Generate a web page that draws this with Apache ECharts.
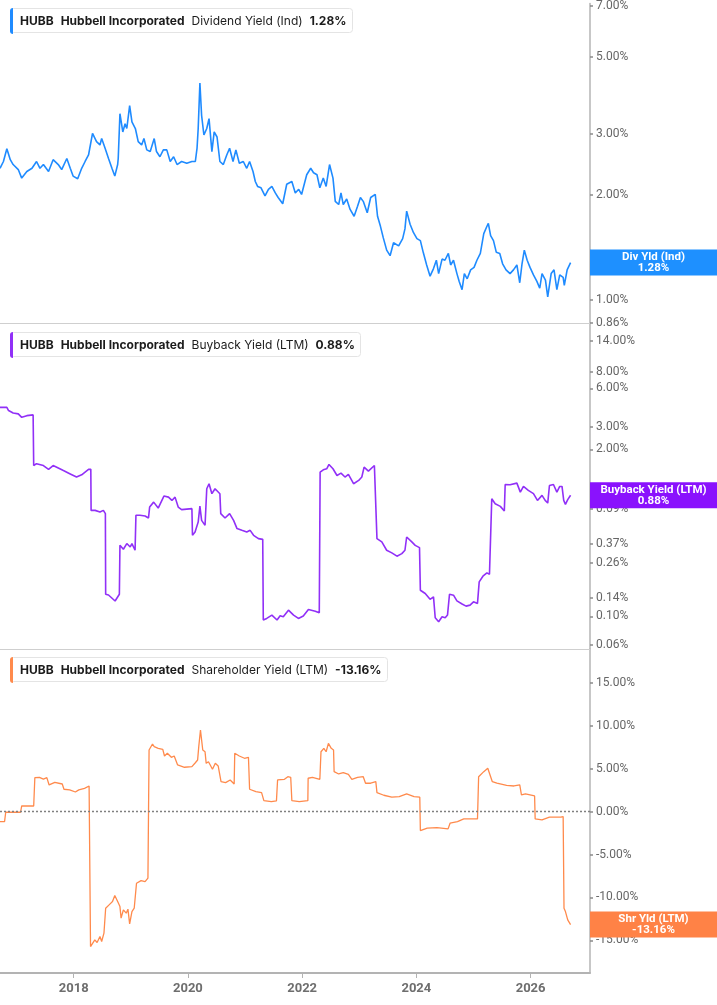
<!DOCTYPE html>
<html lang="en">
<head>
    <meta charset="UTF-8">
    <title>HUBB Yields</title>
    <script src="https://cdn.jsdelivr.net/npm/echarts@6/dist/echarts.min.js"></script>
    <style>
        html, body { margin: 0; padding: 0; background: #fff; }
        #chartContainer { width: 717px; height: 1005px; }
    </style>
</head>
<body>
<div id="chartContainer"></div>
<script type="text/javascript">
    // x = decimal year, y = percent
    var divYield = [[2016.71,2.39],[2016.77,2.50],[2016.83,2.72],[2016.89,2.53],[2016.94,2.45],[2017.03,2.37],[2017.09,2.24],[2017.18,2.34],[2017.27,2.39],[2017.35,2.50],[2017.41,2.39],[2017.47,2.45],[2017.56,2.34],[2017.64,2.53],[2017.73,2.45],[2017.79,2.37],[2017.88,2.55],[2017.94,2.39],[2017.99,2.27],[2018.07,2.23],[2018.14,2.39],[2018.20,2.50],[2018.26,2.61],[2018.33,3.01],[2018.40,2.85],[2018.46,2.79],[2018.49,2.91],[2018.55,2.73],[2018.61,2.55],[2018.67,2.39],[2018.72,2.27],[2018.77,2.45],[2018.78,2.55],[2018.81,3.43],[2018.86,3.04],[2018.90,3.21],[2018.93,3.11],[2018.98,3.62],[2019.02,3.25],[2019.08,3.11],[2019.13,2.85],[2019.19,2.79],[2019.23,2.91],[2019.28,2.70],[2019.34,2.67],[2019.41,2.91],[2019.45,2.67],[2019.51,2.58],[2019.57,2.70],[2019.63,2.70],[2019.69,2.50],[2019.75,2.58],[2019.81,2.45],[2019.89,2.50],[2019.98,2.47],[2020.07,2.50],[2020.13,2.50],[2020.16,2.73],[2020.18,3.11],[2020.21,4.20],[2020.24,3.39],[2020.28,2.98],[2020.33,3.11],[2020.37,3.32],[2020.42,2.67],[2020.46,3.04],[2020.51,2.94],[2020.56,2.50],[2020.62,2.45],[2020.68,2.61],[2020.73,2.73],[2020.79,2.50],[2020.84,2.70],[2020.90,2.47],[2020.97,2.50],[2021.03,2.39],[2021.08,2.50],[2021.14,2.34],[2021.18,2.19],[2021.22,2.12],[2021.28,2.10],[2021.35,1.99],[2021.41,2.08],[2021.47,2.12],[2021.53,2.03],[2021.58,1.97],[2021.66,1.89],[2021.73,2.15],[2021.82,2.19],[2021.88,2.03],[2021.94,2.08],[2021.99,2.01],[2022.08,2.29],[2022.15,2.39],[2022.20,2.32],[2022.26,2.29],[2022.31,2.10],[2022.37,2.24],[2022.42,2.12],[2022.48,2.45],[2022.54,2.24],[2022.58,1.92],[2022.64,1.88],[2022.68,2.03],[2022.72,1.88],[2022.78,1.95],[2022.84,1.82],[2022.91,1.74],[2022.97,1.86],[2023.02,1.97],[2023.07,1.92],[2023.14,1.78],[2023.20,1.97],[2023.28,2.01],[2023.32,1.74],[2023.37,1.63],[2023.42,1.51],[2023.48,1.39],[2023.54,1.34],[2023.60,1.46],[2023.69,1.43],[2023.76,1.50],[2023.80,1.60],[2023.83,1.80],[2023.89,1.65],[2023.95,1.56],[2024.01,1.50],[2024.07,1.48],[2024.12,1.37],[2024.18,1.26],[2024.24,1.17],[2024.30,1.23],[2024.35,1.30],[2024.39,1.19],[2024.45,1.31],[2024.50,1.30],[2024.56,1.36],[2024.60,1.26],[2024.65,1.30],[2024.71,1.19],[2024.75,1.13],[2024.80,1.07],[2024.84,1.19],[2024.89,1.15],[2024.95,1.22],[2025.01,1.24],[2025.06,1.30],[2025.12,1.36],[2025.18,1.55],[2025.23,1.62],[2025.26,1.66],[2025.30,1.53],[2025.35,1.48],[2025.40,1.37],[2025.46,1.36],[2025.51,1.27],[2025.57,1.22],[2025.64,1.19],[2025.70,1.22],[2025.76,1.26],[2025.81,1.12],[2025.85,1.27],[2025.89,1.39],[2025.94,1.30],[2025.99,1.24],[2026.05,1.18],[2026.11,1.13],[2026.16,1.08],[2026.20,1.19],[2026.26,1.14],[2026.30,1.02],[2026.36,1.19],[2026.41,1.22],[2026.46,1.07],[2026.51,1.18],[2026.57,1.16],[2026.59,1.10],[2026.64,1.22],[2026.70,1.28]];

    var buybackYield = [[2016.71,4.26],[2016.83,4.26],[2016.86,4.02],[2016.94,3.85],[2017.03,3.79],[2017.09,3.56],[2017.18,3.67],[2017.29,3.72],[2017.30,1.50],[2017.35,1.55],[2017.47,1.50],[2017.56,1.40],[2017.64,1.50],[2017.82,1.37],[2017.94,1.29],[2018.05,1.22],[2018.14,1.27],[2018.26,1.40],[2018.30,1.40],[2018.305,0.671],[2018.375,0.671],[2018.46,0.651],[2018.52,0.671],[2018.555,0.633],[2018.56,0.149],[2018.61,0.147],[2018.725,0.132],[2018.80,0.149],[2018.81,0.359],[2018.87,0.334],[2018.93,0.370],[2018.99,0.348],[2019.02,0.370],[2019.075,0.328],[2019.09,0.614],[2019.16,0.614],[2019.25,0.606],[2019.31,0.585],[2019.33,0.712],[2019.40,0.778],[2019.48,0.699],[2019.58,0.867],[2019.66,0.851],[2019.72,0.802],[2019.775,0.851],[2019.83,0.712],[2019.89,0.680],[2020.07,0.692],[2020.08,0.429],[2020.125,0.455],[2020.18,0.544],[2020.21,0.725],[2020.24,0.561],[2020.27,0.544],[2020.30,0.513],[2020.32,0.513],[2020.33,0.989],[2020.37,1.082],[2020.42,0.905],[2020.475,0.989],[2020.56,0.905],[2020.575,0.633],[2020.65,0.585],[2020.73,0.633],[2020.80,0.561],[2020.86,0.484],[2020.945,0.469],[2021.03,0.455],[2021.09,0.469],[2021.15,0.429],[2021.235,0.404],[2021.31,0.399],[2021.32,0.0938],[2021.38,0.0966],[2021.47,0.1025],[2021.56,0.0938],[2021.615,0.1013],[2021.67,0.0995],[2021.76,0.112],[2021.85,0.1025],[2021.935,0.0966],[2022.02,0.1007],[2022.11,0.1135],[2022.23,0.110],[2022.30,0.1068],[2022.315,1.331],[2022.37,1.39],[2022.43,1.415],[2022.47,1.528],[2022.54,1.415],[2022.61,1.255],[2022.68,1.308],[2022.75,1.22],[2022.81,1.278],[2022.90,1.082],[2022.99,1.148],[2023.045,1.22],[2023.085,1.456],[2023.16,1.355],[2023.265,1.50],[2023.295,1.456],[2023.31,0.404],[2023.395,0.381],[2023.48,0.328],[2023.57,0.313],[2023.66,0.295],[2023.745,0.309],[2023.80,0.328],[2023.83,0.416],[2023.92,0.381],[2023.98,0.358],[2024.055,0.344],[2024.07,0.160],[2024.155,0.151],[2024.24,0.136],[2024.30,0.142],[2024.33,0.0977],[2024.39,0.091],[2024.45,0.0995],[2024.505,0.0977],[2024.545,0.1025],[2024.58,0.149],[2024.65,0.1466],[2024.71,0.1324],[2024.80,0.125],[2024.87,0.1204],[2024.94,0.1226],[2025.00,0.130],[2025.07,0.1264],[2025.10,0.186],[2025.165,0.206],[2025.235,0.2186],[2025.28,0.2135],[2025.31,0.210],[2025.32,0.827],[2025.38,0.756],[2025.47,0.721],[2025.54,0.663],[2025.555,1.068],[2025.64,1.063],[2025.76,1.094],[2025.82,0.931],[2025.875,1.031],[2025.96,0.960],[2026.05,0.905],[2026.12,0.802],[2026.20,0.878],[2026.255,0.802],[2026.30,0.765],[2026.33,1.049],[2026.40,1.068],[2026.46,0.931],[2026.51,1.031],[2026.55,1.031],[2026.58,0.802],[2026.61,0.747],[2026.65,0.813],[2026.70,0.88]];

    var shareholderYield = [[2016.71,-1.16],[2016.79,-1.16],[2016.81,-0.07],[2017.07,-0.07],[2017.09,0.66],[2017.30,0.66],[2017.32,3.96],[2017.40,4.00],[2017.47,3.80],[2017.53,3.96],[2017.57,3.11],[2017.67,3.42],[2017.80,3.22],[2017.83,2.61],[2017.93,2.53],[2018.03,2.29],[2018.09,2.53],[2018.19,2.72],[2018.27,2.99],[2018.29,2.79],[2018.295,-15.72],[2018.33,-15.83],[2018.37,-14.94],[2018.41,-15.25],[2018.46,-14.55],[2018.49,-15.13],[2018.53,-14.16],[2018.56,-11.25],[2018.62,-10.86],[2018.68,-10.48],[2018.72,-9.78],[2018.77,-10.48],[2018.81,-11.06],[2018.83,-12.41],[2018.87,-11.44],[2018.92,-11.83],[2018.95,-11.36],[2018.98,-13.07],[2019.02,-11.64],[2019.06,-11.25],[2019.10,-8.34],[2019.18,-8.03],[2019.25,-8.15],[2019.30,-7.75],[2019.32,7.18],[2019.38,7.88],[2019.41,7.57],[2019.48,7.38],[2019.56,7.26],[2019.59,6.48],[2019.64,6.80],[2019.71,6.33],[2019.76,6.48],[2019.82,5.44],[2019.94,5.17],[2020.07,5.24],[2020.13,5.70],[2020.17,6.02],[2020.19,7.57],[2020.22,9.51],[2020.26,7.18],[2020.30,6.98],[2020.32,5.63],[2020.36,5.82],[2020.40,5.32],[2020.43,4.94],[2020.48,5.63],[2020.53,5.32],[2020.58,3.49],[2020.66,3.38],[2020.74,3.69],[2020.81,3.22],[2020.82,6.80],[2020.90,6.48],[2020.99,6.22],[2021.06,6.33],[2021.08,2.61],[2021.19,2.33],[2021.29,2.21],[2021.33,1.28],[2021.46,1.16],[2021.55,1.25],[2021.57,3.69],[2021.69,3.77],[2021.75,4.07],[2021.80,4.00],[2021.82,1.28],[2021.95,1.16],[2022.10,1.28],[2022.105,3.89],[2022.18,4.00],[2022.31,3.77],[2022.33,6.98],[2022.38,7.38],[2022.42,6.98],[2022.46,7.96],[2022.51,7.38],[2022.55,7.18],[2022.56,4.66],[2022.64,4.39],[2022.72,4.54],[2022.81,4.35],[2022.87,3.77],[2022.97,4.00],[2023.07,4.07],[2023.11,3.31],[2023.20,3.31],[2023.29,3.49],[2023.31,2.21],[2023.43,1.91],[2023.57,1.68],[2023.70,1.75],[2023.83,2.06],[2023.96,1.75],[2024.06,1.68],[2024.07,-2.21],[2024.19,-1.93],[2024.36,-1.86],[2024.555,-2.01],[2024.59,-1.35],[2024.72,-1.16],[2024.83,-0.85],[2025.07,-0.85],[2025.09,4.07],[2025.18,4.66],[2025.25,5.05],[2025.28,4.85],[2025.33,3.49],[2025.41,3.31],[2025.58,3.07],[2025.71,2.99],[2025.81,3.11],[2025.84,1.94],[2025.91,2.06],[2026.07,1.83],[2026.08,-0.85],[2026.20,-0.97],[2026.33,-0.65],[2026.53,-0.65],[2026.57,-0.58],[2026.585,-11.25],[2026.61,-11.64],[2026.65,-12.61],[2026.68,-12.53],[2026.70,-13.16]];

    var xTickYears = [2018, 2020, 2022, 2024, 2026];
    var divTicks = [7, 5, 3, 2, 1, 0.86];
    var buybackTicks = [14, 8, 6, 3, 2, 0.69, 0.37, 0.26, 0.14, 0.10, 0.06];
    var shrTicks = [15, 10, 5, 0, -5, -10, -15];
    var metricNames = ['Dividend Yield (Ind)', 'Buyback Yield (LTM)', 'Shareholder Yield (LTM)'];
    var badgeNames = ['Div Yld (Ind)', 'Buyback Yield (LTM)', 'Shr Yld (LTM)'];

    var ticker = 'HUBB';
    var company = 'Hubbell Incorporated';
    var lineColors = ['#1f8bff', '#9130f7', '#ff8a4c'];
    var badgeColors = ['#1e90ff', '#8a12fd', '#ff8246'];

    var allSeries = [divYield, buybackYield, shareholderYield];
    var allTicks = [divTicks, buybackTicks, shrTicks];

    function pct(v) {
        return v.toFixed(2) + '%';
    }

    var chartDom = document.getElementById('chartContainer');
    var myChart = echarts.init(chartDom, null, {renderer: 'canvas'});

    var grids = [
        {left: 0, right: 127, top: 0, height: 323},
        {left: 0, right: 127, top: 324, height: 325},
        {left: 0, right: 127, top: 649, height: 324}
    ];

    var xAxes = [0, 1, 2].map(function (i) {
        var last = i === 2;
        return {
            type: 'value',
            gridIndex: i,
            min: 2016.71,
            max: 2027.04,
            splitLine: {show: false},
            axisLine: {show: true, onZero: false, lineStyle: {color: last ? '#b3b3b3' : '#cfcfcf', width: last ? 2 : 1}},
            axisTick: {show: last, length: 5, customValues: xTickYears, lineStyle: {color: '#b3b3b3', width: 1}},
            axisLabel: {
                show: last,
                customValues: xTickYears,
                formatter: function (v) { return String(Math.round(v)); },
                color: '#6e6e6e',
                fontFamily: 'Roboto',
                fontWeight: 'bold',
                fontSize: 13,
                margin: 9
            }
        };
    });

    var yRanges = [[0.858, 7.12], [0.0558, 19.0], [-18.8, 18.95]];
    var yAxes = [0, 1, 2].map(function (i) {
        return {
            type: i === 2 ? 'value' : 'log',
            logBase: 10,
            gridIndex: i,
            position: 'right',
            min: yRanges[i][0],
            max: yRanges[i][1],
            splitLine: {show: false},
            axisLine: {show: true, onZero: false, lineStyle: {color: '#b5b5b5', width: 1.5}},
            axisTick: {show: true, length: 3, customValues: allTicks[i], lineStyle: {color: '#8a8a8a', width: 1.5}},
            axisLabel: {
                customValues: allTicks[i],
                formatter: function (v) { return pct(v); },
                color: '#666',
                fontFamily: 'Roboto',
                fontSize: 12,
                margin: 6
            }
        };
    });

    var richStyle = {
        b: {fontFamily: 'Inter', fontWeight: 'bold', fontSize: 12, color: '#1c1c1c', padding: [0, 7, 0, 0]},
        n: {fontFamily: 'Inter', fontWeight: 'normal', fontSize: 12, color: '#1c1c1c', padding: [0, 7, 0, 0]},
        v: {fontFamily: 'Inter', fontWeight: 'bold', fontSize: 12, color: '#1c1c1c'}
    };

    var titles = [0, 1, 2].map(function (i) {
        var d = allSeries[i];
        return {
            left: 10,
            top: grids[i].top + 8,
            text: '{b|' + ticker + '}{b|' + company + '}{n|' + metricNames[i] + '}{v|' + pct(d[d.length - 1][1]) + '}',
            padding: [7, 6, 6, 10],
            backgroundColor: '#fff',
            borderColor: '#e4e4e4',
            borderWidth: 1,
            borderRadius: 3,
            textStyle: {rich: richStyle}
        };
    });

    var option = {
        animation: false,
        backgroundColor: '#fff',
        title: titles,
        grid: grids,
        xAxis: xAxes,
        yAxis: yAxes,
        series: [0, 1, 2].map(function (i) {
            var s = {
                type: 'line',
                xAxisIndex: i,
                yAxisIndex: i,
                data: allSeries[i],
                showSymbol: false,
                symbol: 'none',
                silent: true,
                lineStyle: {color: lineColors[i], width: i === 2 ? 1.3 : 1.6}
            };
            if (i === 2) {
                s.markLine = {
                    silent: true,
                    symbol: 'none',
                    label: {show: false},
                    lineStyle: {color: '#808080', type: [2, 2], width: 1.3},
                    data: [{yAxis: 0}]
                };
            }
            return s;
        })
    };
    myChart.setOption(option);

    // 标签 : 左侧色条 + 右侧最新值
    var graphics = [];
    [0, 1, 2].forEach(function (i) {
        var d = allSeries[i];
        var lastVal = d[d.length - 1][1];
        var y = myChart.convertToPixel({yAxisIndex: i}, lastVal);
        graphics.push({
            type: 'rect', z: 100,
            shape: {x: 10, y: grids[i].top + 8, width: 3, height: 26, r: [3, 0, 0, 3]},
            style: {fill: lineColors[i]}
        });
        graphics.push({
            type: 'rect', z: 100,
            shape: {x: 590, y: y - 13, width: 127, height: 26},
            style: {fill: badgeColors[i]}
        });
        graphics.push({
            type: 'text', z: 101,
            x: 653.5, y: y,
            style: {
                text: badgeNames[i] + '\n' + pct(lastVal),
                fill: '#fff',
                font: 'bold 11.5px Roboto',
                align: 'center',
                verticalAlign: 'middle',
                lineHeight: 11
            }
        });
    });
    myChart.setOption({graphic: graphics});
</script>
</body>
</html>
